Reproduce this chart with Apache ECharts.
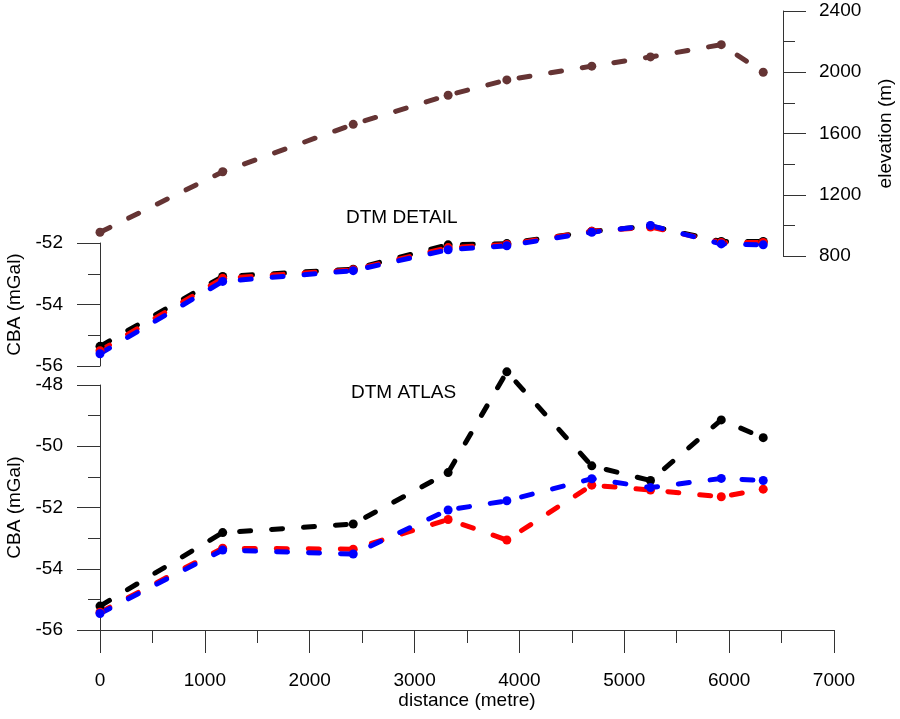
<!DOCTYPE html>
<html>
<head>
<meta charset="utf-8">
<script src="https://cdn.jsdelivr.net/npm/echarts@6/dist/echarts.min.js"></script>
<style>
  html, body { margin: 0; padding: 0; background: #fff; }
  #chart { width: 900px; height: 719px; }
</style>
</head>
<body>
<div id="chart"></div>
<script>
// distance along the profile (metre)
const distance = [0, 1170, 2415, 3320, 3880, 4690, 5250, 5925, 6325];
// elevation (m)
const elevation = [955, 1350, 1660, 1850, 1950, 2040, 2100, 2180, 2000];
// CBA with DTM DETAIL (mGal)
const detailBlack = [-55.36, -53.09, -52.85, -52.06, -52.02, -51.62, -51.45, -51.95, -51.95];
const detailRed = [-55.5, -53.15, -52.87, -52.15, -52.05, -51.62, -51.48, -51.98, -51.98];
const detailBlue = [-55.6, -53.25, -52.9, -52.22, -52.09, -51.65, -51.43, -52.03, -52.06];
// CBA with DTM ATLAS (mGal)
const atlasBlack = [-55.22, -52.82, -52.54, -50.86, -47.57, -50.64, -51.12, -49.14, -49.72];
const atlasRed = [-55.42, -53.33, -53.36, -52.39, -53.06, -51.27, -51.43, -51.65, -51.4];
const atlasBlue = [-55.46, -53.39, -53.52, -52.08, -51.78, -51.06, -51.35, -51.05, -51.12];

const font = 'Liberation Sans, Arial, sans-serif';
const axisColor = '#333';

let pairs = (ys) => distance.map((d, i) => [d, ys[i]]);
let plain = (v) => String(v);

let makeSeries = (ys, color, gridIdx) => ({
    type: 'line',
    xAxisIndex: gridIdx,
    yAxisIndex: gridIdx,
    data: pairs(ys),
    clip: false,
    symbol: 'circle',
    symbolSize: 9,
    color: color,
    itemStyle: {color: color},
    lineStyle: {color: color, width: 5, type: [11, 21], cap: 'round'},
    animation: false
});

let yAxisBase = (opt) => Object.assign({
    type: 'value',
    nameLocation: 'middle',
    nameTextStyle: {fontSize: 19, color: '#000', fontFamily: font},
    axisLine: {show: true, onZero: false, lineStyle: {color: axisColor, width: 1}},
    axisTick: {show: true, length: 23, lineStyle: {color: axisColor}},
    minorTick: {show: true, splitNumber: 2, length: 12, lineStyle: {color: axisColor}},
    splitLine: {show: false},
    axisLabel: {fontSize: 19, color: '#000', fontFamily: font, margin: 37, formatter: plain}
}, opt);

let xAxisBase = (gridIdx, show) => ({
    type: 'value',
    gridIndex: gridIdx,
    show: show,
    min: 0,
    max: 7000,
    interval: 1000,
    name: show ? 'distance (metre)' : '',
    nameLocation: 'middle',
    nameGap: 57,
    nameTextStyle: {fontSize: 19, color: '#000', fontFamily: font},
    axisLine: {show: true, onZero: false, lineStyle: {color: axisColor, width: 1}},
    axisTick: {show: true, length: 23, lineStyle: {color: axisColor}},
    minorTick: {show: true, splitNumber: 2, length: 13, lineStyle: {color: axisColor}},
    splitLine: {show: false},
    axisLabel: {fontSize: 19, color: '#000', fontFamily: font, margin: 41, formatter: plain}
});

let option = {
    backgroundColor: '#fff',
    animation: false,
    grid: [
        {left: 100, width: 734, top: 11, height: 245, outerBoundsMode: 'none'},
        {left: 100, width: 734, top: 243, height: 123, outerBoundsMode: 'none'},
        {left: 100, width: 734, top: 385, height: 245, outerBoundsMode: 'none'},
        // holder for the elevation scale drawn at the end of the profile
        {left: 100, width: 683, top: 11, height: 245, outerBoundsMode: 'none'}
    ],
    xAxis: [xAxisBase(0, false), xAxisBase(1, false), xAxisBase(2, true), xAxisBase(3, false)],
    yAxis: [
        yAxisBase({gridIndex: 0, show: false, min: 800, max: 2400, interval: 400}),
        yAxisBase({
            gridIndex: 1, position: 'left',
            min: -56, max: -52, interval: 2,
            name: 'CBA (mGal)', nameGap: 71
        }),
        yAxisBase({
            gridIndex: 2, position: 'left',
            min: -56, max: -48, interval: 2,
            name: 'CBA (mGal)', nameGap: 71
        }),
        yAxisBase({
            gridIndex: 3, position: 'right',
            min: 800, max: 2400, interval: 400,
            name: 'elevation (m)', nameGap: 93,
            axisLabel: {fontSize: 19, color: '#000', fontFamily: font, margin: 36, formatter: plain}
        })
    ],
    graphic: [
        {type: 'text', left: 346, top: 208, style: {text: 'DTM DETAIL', fontSize: 19, fontFamily: font, fill: '#000'}},
        {type: 'text', left: 351, top: 383, style: {text: 'DTM ATLAS', fontSize: 19, fontFamily: font, fill: '#000'}}
    ],
    series: [
        makeSeries(elevation, '#653434', 0),
        makeSeries(detailBlack, '#000000', 1),
        makeSeries(detailRed, '#ff0000', 1),
        makeSeries(detailBlue, '#0000ff', 1),
        makeSeries(atlasBlack, '#000000', 2),
        makeSeries(atlasRed, '#ff0000', 2),
        makeSeries(atlasBlue, '#0000ff', 2)
    ]
};

let myChart = echarts.init(document.getElementById('chart'), null, {renderer: 'canvas', width: 900, height: 719});
myChart.setOption(option);
</script>
</body>
</html>
